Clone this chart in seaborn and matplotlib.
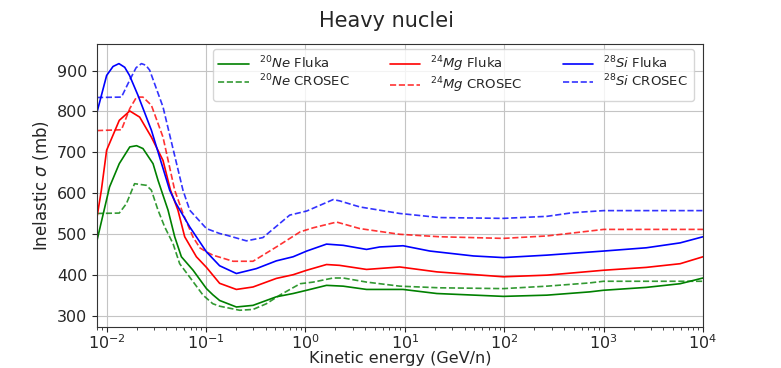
import numpy as np
import pandas as pd
import matplotlib
matplotlib.use("Agg")
import matplotlib.pyplot as plt
import seaborn as sns

# kinetic energy (GeV/n) and inelastic cross section (mb)
ne_fluka_E = [0.008, 0.0107, 0.0134, 0.0171, 0.020, 0.0232, 0.0293, 0.0329, 0.0415, 0.0484, 0.0565,
              0.0741, 0.101, 0.117, 0.137, 0.202, 0.297, 0.51, 0.752, 1.03, 1.63, 2.4, 4.12, 9.6, 21,
              98, 269, 724, 1000, 2690, 5890, 10000]
ne_fluka = [484, 615, 672, 713, 716, 709, 672, 631, 558, 493, 444,
            411, 366, 351, 337, 321, 325, 346, 354, 362, 374, 372, 364, 364, 354,
            347, 350, 358, 362, 369, 378, 392]

ne_crosec_E = [0.008, 0.0134, 0.0158, 0.0191, 0.0251, 0.0282, 0.0329, 0.0384, 0.0466, 0.0543, 0.0686,
               0.0933, 0.117, 0.137, 0.218, 0.297, 0.405, 0.552, 0.885, 1.2, 1.9, 2.4, 4.12, 8.9, 22.4,
               98, 269, 724, 1000, 10000]
ne_crosec = [550, 551, 574, 623, 619, 607, 558, 517, 476, 427, 394,
             350, 329, 323, 313, 315, 329, 350, 378, 382, 392, 392, 382, 372, 368,
             366, 372, 380, 384, 384]

mg_fluka_E = [0.008, 0.00885, 0.01, 0.0134, 0.0171, 0.0215, 0.0282, 0.0369, 0.0439, 0.0522, 0.061,
              0.080, 0.101, 0.137, 0.202, 0.297, 0.51, 0.752, 1.03, 1.63, 2.2, 4.12, 8.9, 21,
              98, 269, 724, 1000, 2690, 5890, 10000]
mg_fluka = [541, 607, 705, 778, 801, 786, 737, 680, 607, 558, 493,
            444, 418, 379, 364, 370, 391, 400, 411, 425, 423, 413, 419, 407,
            395, 399, 408, 411, 418, 427, 444]

mg_crosec_E = [0.008, 0.0141, 0.0171, 0.020, 0.0232, 0.0282, 0.0369, 0.0484, 0.0586, 0.0741, 0.0865,
               0.101, 0.117, 0.137, 0.187, 0.297, 0.51, 0.885, 1.2, 2.06, 3.53, 8.9, 22.4,
               98, 269, 724, 1000, 10000]
mg_crosec = [753, 755, 807, 835, 835, 815, 737, 607, 550, 492, 466,
             456, 448, 443, 433, 433, 468, 505, 515, 529, 513, 499, 493,
             489, 495, 507, 511, 511]

si_fluka_E = [0.008, 0.01, 0.0116, 0.0133, 0.0152, 0.017, 0.0207, 0.0282, 0.0431, 0.0495, 0.0686, 0.101, 0.137,
              0.202, 0.321, 0.51, 0.752, 1.03, 1.63, 2.4, 4.12, 5.6, 9.6, 17.9, 49,
              98, 269, 1000, 2690, 5890, 10000]
si_fluka = [798, 888, 910, 917, 908, 888, 839, 754, 607, 576, 517, 456, 422,
            403, 415, 434, 444, 458, 475, 472, 462, 468, 471, 458, 446,
            442, 448, 458, 466, 478, 493]

si_crosec_E = [0.008, 0.0141, 0.0171, 0.0198, 0.0224, 0.0248, 0.0271, 0.0369, 0.0586, 0.0686, 0.101, 0.137, 0.160,
               0.255, 0.374, 0.695, 1.03, 1.9, 2.2, 3.53, 8.9, 22.4, 98, 269, 490,
               1000, 10000]
si_crosec = [834, 835, 877, 907, 917, 913, 901, 811, 607, 558, 513, 501, 497,
             483, 491, 546, 556, 584, 581, 566, 550, 540, 538, 543, 552,
             557, 557]

xticks = [1e-2, 1e-1, 1e0, 1e1, 1e2, 1e3, 1e4]
yticks = [300, 400, 500, 600, 700, 800, 900]

series = [
    (r"$^{20}Ne$ Fluka", ne_fluka_E, ne_fluka, "green", "-"),
    (r"$^{20}Ne$ CROSEC", ne_crosec_E, ne_crosec, "green", "--"),
    (r"$^{24}Mg$ Fluka", mg_fluka_E, mg_fluka, "red", "-"),
    (r"$^{24}Mg$ CROSEC", mg_crosec_E, mg_crosec, "red", "--"),
    (r"$^{28}Si$ Fluka", si_fluka_E, si_fluka, "blue", "-"),
    (r"$^{28}Si$ CROSEC", si_crosec_E, si_crosec, "blue", "--"),
]

sns.set_style("ticks", {"axes.grid": True, "grid.color": "#c4c4c4", "axes.edgecolor": "#333333"})
plt.rcParams["font.family"] = ["DejaVu Sans"]

fig = plt.figure(figsize=(7.81, 3.68), dpi=100)
ax = fig.add_axes([0.1242, 0.1114, 0.7759, 0.769])
ax.set_xscale("log")

for label, E, sig, col, ls in series:
    d = pd.DataFrame({"E": E, "sigma": sig})
    sns.lineplot(data=d, x="E", y="sigma", ax=ax, color=col, linestyle=ls,
                 linewidth=1.2, alpha=0.8 if ls == "--" else 1.0, label=label)

ax.set_xlim(0.008, 1e4)
ax.set_ylim(272, 965)
ax.set_xticks(xticks)
ax.set_yticks(yticks)
ax.tick_params(axis="both", labelsize=11.5)
ax.tick_params(axis="x", pad=1)
ax.set_xlabel("Kinetic energy (GeV/n)", fontsize=11.5, labelpad=-1)
ax.set_ylabel(r"Inelastic $\sigma$ (mb)", fontsize=12)
fig.text(0.495, 0.915, "Heavy nuclei", ha="center", va="bottom", fontsize=15)

ax.legend(ncol=3, fontsize=9.5, loc="upper left", bbox_to_anchor=(0.2727, 0.866),
          bbox_transform=fig.transFigure, borderaxespad=0, handlelength=2.3,
          columnspacing=3.0, labelspacing=0.12, framealpha=0.8)

fig.savefig("out.png", dpi=100)
